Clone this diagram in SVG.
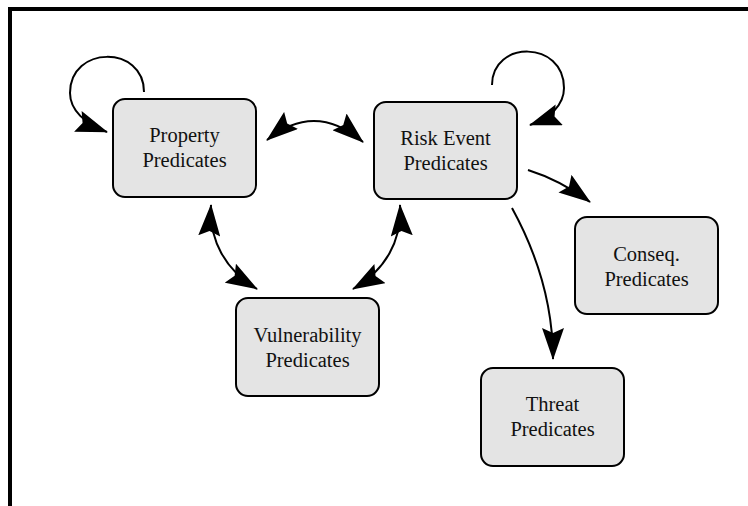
<svg xmlns="http://www.w3.org/2000/svg" width="748" height="506" viewBox="0 0 748 506">
<style>
.box{fill:#e4e4e4;stroke:#000;stroke-width:2}
.lbl{font-family:"Liberation Serif","Times New Roman",serif;font-size:20.5px;fill:#111;text-anchor:middle}
.con{fill:none;stroke:#000;stroke-width:2}
.frame{fill:none;stroke:#000;stroke-width:4}
</style>
<defs>
<marker id="ah" markerUnits="userSpaceOnUse" markerWidth="32" markerHeight="22" viewBox="0 0 32 22" refX="31" refY="11" orient="auto-start-reverse">
<path d="M0,0 L32,11 L0,22 L5,11 Z" fill="#000"/>
</marker>
</defs>
<rect width="748" height="506" fill="#fff"/>
<path class="frame" d="M10,506 L10,9 L748,9"/>
<g id="connectors">
<path class="con" d="M144,92 C144,45 70,45 70,93 C70,110 85,124 107,132" marker-end="url(#ah)"/>
<path class="con" d="M492,85 C492,40 564,40 564,88 C564,105 550,118 530,125" marker-end="url(#ah)"/>
<path class="con" d="M267,140 Q315,101 363,142" marker-start="url(#ah)" marker-end="url(#ah)"/>
<path class="con" d="M211,205 C209,240 225,270 257,289" marker-start="url(#ah)" marker-end="url(#ah)"/>
<path class="con" d="M400,205 C402,240 386,270 353,289" marker-start="url(#ah)" marker-end="url(#ah)"/>
<path class="con" d="M528,170 Q560,180 590,202" marker-end="url(#ah)"/>
<path class="con" d="M512,208 C535,250 553,300 553,359" marker-end="url(#ah)"/>
</g>
<g id="property">
<rect class="box" x="113" y="99" width="143" height="98" rx="12"/>
<text class="lbl" x="184.5" y="142">Property</text>
<text class="lbl" x="184.5" y="167">Predicates</text>
</g>
<g id="riskevent">
<rect class="box" x="374" y="102" width="143" height="97" rx="12"/>
<text class="lbl" x="445.5" y="145">Risk Event</text>
<text class="lbl" x="445.5" y="170">Predicates</text>
</g>
<g id="vulnerability">
<rect class="box" x="236" y="298" width="143" height="98" rx="12"/>
<text class="lbl" x="307.5" y="342">Vulnerability</text>
<text class="lbl" x="307.5" y="367">Predicates</text>
</g>
<g id="conseq">
<rect class="box" x="575" y="217" width="143" height="97" rx="12"/>
<text class="lbl" x="646.5" y="261">Conseq.</text>
<text class="lbl" x="646.5" y="286">Predicates</text>
</g>
<g id="threat">
<rect class="box" x="481" y="368" width="143" height="98" rx="12"/>
<text class="lbl" x="552.5" y="411">Threat</text>
<text class="lbl" x="552.5" y="436">Predicates</text>
</g>
</svg>
